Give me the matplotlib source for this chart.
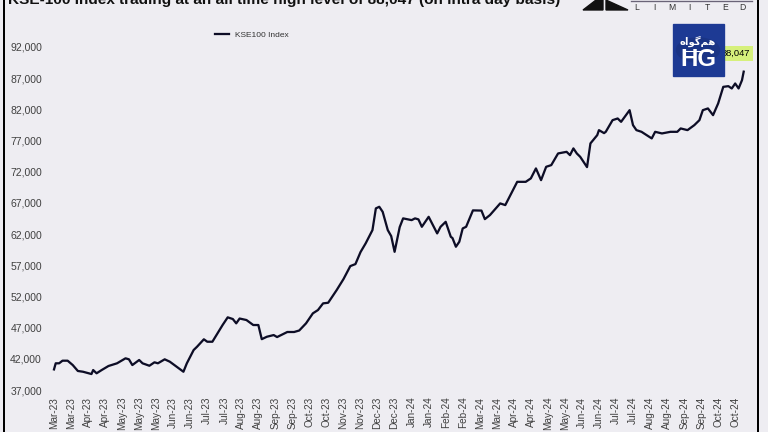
import matplotlib.pyplot as plt
from matplotlib.lines import Line2D
from matplotlib.patches import Rectangle, Circle, Polygon

# KSE100 index (trading day index, closing level)
days = [0, 1, 3, 5, 8, 11, 14, 17, 22, 23, 25, 28, 32, 37, 42, 44, 46, 50, 52, 56,
        59, 61, 65, 68, 72, 76, 78, 82, 84, 88, 90, 93, 96, 99, 102, 105, 107, 109, 113, 117,
        120, 122, 125, 129, 131, 137, 141, 144, 148, 152, 155, 158, 161, 166, 170, 174, 177, 180, 183, 187,
        189, 191, 193, 196, 198, 200, 203, 205, 210, 212, 214, 216, 220, 225, 227, 230, 233, 234, 236, 238,
        240, 242, 246, 251, 253, 256, 262, 265, 272, 277, 280, 283, 286, 289, 292, 296, 301, 303, 305, 307,
        309, 313, 315, 319, 320, 323, 324, 328, 331, 333, 338, 340, 342, 345, 348, 351, 353, 357, 362, 366,
        368, 372, 376, 379, 381, 384, 387, 390, 393, 396, 398, 400, 402, 404, 405]
kse100 = [40300, 41280, 41280, 41700, 41700, 41000, 40050, 39930, 39560, 40200,
          39680, 40200, 40850, 41280, 42080, 41920, 41000, 41810, 41280, 40890,
          41440, 41280, 41920, 41540, 40730, 39930, 41280, 43410, 43940, 45130,
          44740, 44740, 46090, 47420, 48650, 48380, 47690, 48460, 48220, 47420,
          47420, 45150, 45540, 45810, 45490, 46300, 46300, 46540, 47690, 49290,
          49820, 50890, 50990, 53030, 54790, 56870, 57190, 59120, 60510, 62640,
          66120, 66380, 65570, 62640, 61680, 59160, 63120, 64520, 64240, 64520,
          64360, 63170, 64770, 62110, 63170, 63970, 61570, 61360, 59970, 60770,
          62910, 63170, 65800, 65770, 64400, 65050, 66920, 66650, 70380, 70380,
          70930, 72530, 70650, 72790, 73060, 74930, 75190, 74660, 75740, 74930,
          74390, 72740, 76540, 77870, 78670, 78190, 78400, 80270, 80540, 80000,
          81870, 79470, 78670, 78400, 77870, 77340, 78400, 78140, 78400, 78400,
          78940, 78670, 79470, 80270, 81870, 82150, 81070, 82950, 85610, 85720,
          85350, 86150, 85350, 86680, 88047]

# category axis labels, one every 10 trading days
tick_labels = ["Mar-23", "Mar-23", "Apr-23", "Apr-23", "May-23", "May-23", "May-23",
               "Jun-23", "Jun-23", "Jul-23", "Jul-23", "Aug-23", "Aug-23", "Sep-23",
               "Sep-23", "Oct-23", "Oct-23", "Nov-23", "Nov-23", "Dec-23", "Dec-23",
               "Jan-24", "Jan-24", "Feb-24", "Feb-24", "Mar-24", "Mar-24", "Apr-24",
               "Apr-24", "May-24", "May-24", "Jun-24", "Jun-24", "Jul-24", "Jul-24",
               "Aug-24", "Aug-24", "Sep-24", "Sep-24", "Oct-24", "Oct-24"]
y_ticks = list(range(37000, 92001, 5000))

bg = "#eeedf2"
plt.rcParams['font.family'] = ['Liberation Sans', 'DejaVu Sans']

fig = plt.figure(figsize=(8, 4.5), dpi=96, facecolor=bg)
ax = fig.add_axes([50.6 / 768, 42 / 432, 694.8 / 768, 343 / 432], facecolor=bg)

ax.plot(days, kse100, color="#0d0d26", lw=1.7, label="KSE100 Index")
ax.set_xlim(-2, 406)
ax.set_ylim(37000, 92000)

ax.set_xticks([10 * i for i in range(len(tick_labels))])
ax.set_xticklabels(tick_labels, rotation=90, fontsize=7.5, color="#404040")
ax.set_yticks(y_ticks)
ax.set_yticklabels([f"{v:,}" for v in y_ticks], fontsize=7.8, color="#404040")
ax.tick_params(axis="x", length=0, pad=5)
ax.tick_params(axis="y", length=0, pad=6.5)
for s in ax.spines.values():
    s.set_visible(False)

leg = ax.legend(loc="center", bbox_to_anchor=(0.328, 0.919), bbox_transform=fig.transFigure,
                frameon=False, handlelength=1.7, handletextpad=0.7,
                prop={"family": ["Liberation Sans Narrow", "Liberation Sans"], "size": 6.3})
for t in leg.get_texts():
    t.set_color("#333333")

# last value label
ax.annotate(f"{kse100[-1]:,}", xy=(days[-1], kse100[-1]), xytext=(-8, 18),
            textcoords="offset pixels", ha="center", va="center", fontsize=7,
            annotation_clip=False,
            bbox=dict(boxstyle="square,pad=0.35", fc="#d6f07c", ec="none"))

# title (cut at the top in the original)
fig.text(8 / 768, 1 - 4 / 432, "KSE-100 Index trading at an all time high level of 88,047 (on intra day basis)",
         fontsize=11.5, fontweight="bold", va="baseline", ha="left", color="#111111")

# frame lines
fig.add_artist(Line2D([4 / 768, 4 / 768], [0, 1], color="black", lw=1.5))
fig.add_artist(Line2D([758 / 768, 758 / 768], [0, 1], color="black", lw=1.5))

# company logo at the top right
fig.add_artist(Polygon([[583 / 768, 1 - 10 / 432], [596 / 768, 1.0], [603 / 768, 1.0], [603 / 768, 1 - 10 / 432]],
                       closed=True, color="#111111", zorder=5))
fig.add_artist(Polygon([[606 / 768, 1 - 10 / 432], [606 / 768, 1.0], [628 / 768, 1 - 10 / 432]],
                       closed=True, color="#111111", zorder=5))
fig.add_artist(Line2D([631 / 768, 752 / 768], [1 - 1 / 432, 1 - 1 / 432], color="#6a6478", lw=1))
for i, ch in enumerate("LIMITED"):
    fig.text((637 + 17.6 * i) / 768, 1 - 7 / 432, ch, fontsize=6.5, color="#333333",
             ha="center", va="center")

# HG badge
fig.add_artist(Rectangle((673 / 768, 1 - 76 / 432), 51 / 768, 52 / 432, transform=fig.transFigure,
                         color="#1d3a94", zorder=5))
fig.add_artist(Circle((698 / 768, 1 - 50 / 432), 0.028, transform=fig.transFigure,
                      color="#1a3485", zorder=5))
fig.text(698 / 768, 1 - 41 / 432, "\ufee9\ufe8d\ufeee\ufb94\ufee2\ufeeb", fontsize=7.5, fontweight="bold",
         color="white", ha="center", va="center", zorder=6, family=["DejaVu Sans"])
fig.add_artist(Line2D([683 / 768, 713 / 768], [1 - 50.5 / 432, 1 - 50.5 / 432], color="white", lw=0.8, zorder=6))
fig.text(698 / 768, 1 - 60 / 432, "HG", fontsize=18, fontweight="bold", color="white",
         ha="center", va="center", zorder=6)

fig.savefig("out.png", dpi=96, facecolor=bg)
